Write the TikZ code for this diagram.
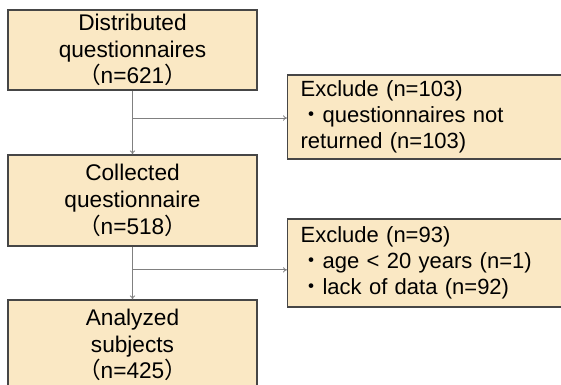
\documentclass[tikz,border=0pt]{standalone}
\usepackage{fontspec}
\setmainfont{Liberation Sans}
\newfontfamily\cjk{Noto Sans CJK JP}
\usepackage{tikz}
\usetikzlibrary{arrows.meta,calc}

\definecolor{boxfill}{RGB}{250,232,196}
\definecolor{boxline}{RGB}{70,70,70}
\definecolor{flowline}{RGB}{128,128,128}
\newcommand{\fwl}{{\cjk （}}
\newcommand{\fwr}{{\cjk ）}}
\newcommand{\fwdot}{{\cjk ・}}

\begin{document}
\begin{tikzpicture}[x=0.75pt,y=-0.75pt,>={To[length=3pt,width=4pt]},
      box/.style={draw=boxline,fill=boxfill,line width=0.9pt,minimum width=186.75pt,
        align=center,font=\fontsize{17}{20}\selectfont,inner sep=0pt},
      exbox/.style={draw=boxline,fill=boxfill,line width=0.9pt,anchor=west,
        text width=187.5pt,inner xsep=9.75pt,inner ysep=0pt,align=left,
        font=\fontsize{16.5}{19.5}\selectfont},
      flow/.style={->,draw=flowline,line width=0.6pt}]
			\useasboundingbox (0,0) rectangle (561,385);
			\node[box,minimum height=60pt] (dist) at (132.5,50) {Distributed\\questionnaires\\\fwl n=621\fwr};
			\node[box,minimum height=68.25pt] (coll) at (132.5,200.5) {Collected\\questionnaire\\\fwl n=518\fwr};
			\node[box,minimum height=67.5pt] (anal) at (132.5,345) {Analyzed\\subjects\\\fwl n=425\fwr};
			\node[exbox,minimum height=63pt] (ex1) at (287,117) {Exclude (n=103)\\\fwdot questionnaires not\\returned (n=103)};
			\node[exbox,minimum height=66pt] (ex2) at (287,263) {Exclude (n=93)\\\fwdot age < 20 years (n=1)\\\fwdot lack of data (n=92)};
			\coordinate (br1) at ($(dist.south)!0.43!(coll.north)$);
			\coordinate (br2) at ($(coll.south)!0.44!(anal.north)$);
			\path
				(dist.south) edge[flow] (coll.north)
				(br1) edge[flow] (br1 -| ex1.west)
				(coll.south) edge[flow] (anal.north)
				(br2) edge[flow] (br2 -| ex2.west);
		\end{tikzpicture}
\end{document}
